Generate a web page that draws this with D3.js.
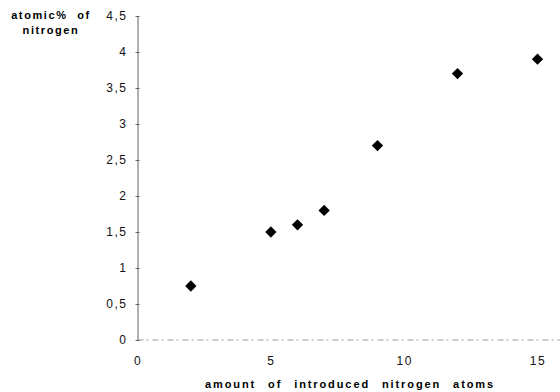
<!DOCTYPE html>
<html><head><meta charset="utf-8">
<script src="https://cdn.jsdelivr.net/npm/d3@7"></script>
<style>body{margin:0;background:#fff}svg{display:block}text{font-family:"Liberation Sans",Arial,sans-serif}</style>
</head><body><svg id="c" width="560" height="392"></svg>
<script>
const xValues = [2, 5, 6, 7, 9, 12, 15];
const yValues = [0.75, 1.5, 1.6, 1.8, 2.7, 3.7, 3.9];
const xTicks = [0, 5, 10, 15];
const yTicks = [0, 0.5, 1, 1.5, 2, 2.5, 3, 3.5, 4, 4.5];
const yTitle = ["atomic% of", "nitrogen"];
const xTitle = "amount of introduced nitrogen atoms";

const svg = d3.select("#c");
const x = d3.scaleLinear().domain([0, 15]).range([137.5, 537.5]);
const y = d3.scaleLinear().domain([0, 4.5]).range([340, 16]);
const fmt = d => String(d).replace(".", ",");

// x axis line (faint, broken look)
svg.append("line").attr("x1", x(0)).attr("x2", 560).attr("y1", y(0)).attr("y2", y(0))
  .attr("stroke", "#9a9a9a").attr("stroke-width", 1).attr("stroke-dasharray", "6,3,2,4");

// y axis
const ya = svg.append("g").attr("transform", `translate(${x(0)},0)`)
  .call(d3.axisLeft(y).tickValues(yTicks).tickFormat(fmt).tickSize(0).tickPadding(10));
ya.select(".domain").attr("stroke", "#666").attr("stroke-width", 1);
ya.selectAll(".tick line").attr("x1", -2).attr("x2", 2).attr("stroke", "#666");
ya.selectAll("text").attr("font-size", 12).attr("fill", "#111").attr("letter-spacing", 1.5);

// x tick labels
const xa = svg.append("g").attr("transform", `translate(0,${y(0)})`)
  .call(d3.axisBottom(x).tickValues(xTicks).tickFormat(fmt).tickSize(0).tickPadding(16));
xa.select(".domain").remove();
xa.selectAll("text").attr("font-size", 12).attr("fill", "#111").attr("letter-spacing", 1.5);

// points (diamonds)
svg.append("g").selectAll("path").data(xValues).join("path")
  .attr("d", d3.symbol(d3.symbolSquare, 64)())
  .attr("transform", (d, i) => `translate(${x(d)},${y(yValues[i])}) rotate(45)`)
  .attr("fill", "#000");

// titles
svg.append("g").selectAll("text").data(yTitle).join("text")
  .attr("x", 51).attr("y", (d, i) => 19 + i * 15)
  .attr("text-anchor", "middle").attr("font-size", 11).attr("font-weight", "bold")
  .attr("letter-spacing", 1.6).attr("word-spacing", 5).text(d => d);

svg.append("text").attr("x", 350).attr("y", 388).attr("text-anchor", "middle")
  .attr("font-size", 11).attr("font-weight", "bold").attr("letter-spacing", 1.9)
  .attr("word-spacing", 7).text(xTitle);
</script></body></html>
